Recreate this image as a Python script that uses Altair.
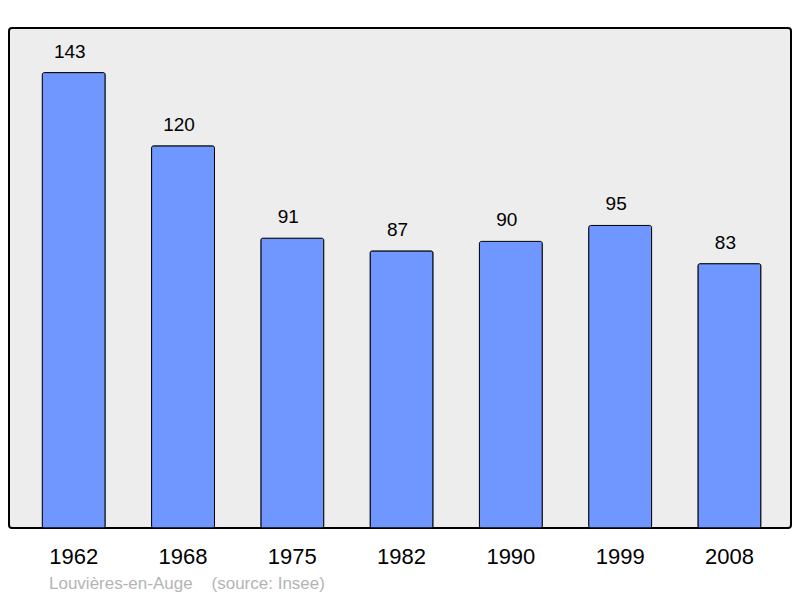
import altair as alt
import pandas as pd

years = ["1962", "1968", "1975", "1982", "1990", "1999", "2008"]
population = [143, 120, 91, 87, 90, 95, 83]
caption_text = ["Louvi\u00e8res-en-Auge\u00a0\u00a0\u00a0\u00a0(source: Insee)"]

df = pd.DataFrame({"year": years, "pop": population})
cap = pd.DataFrame({"t": caption_text})

FONT = "Liberation Sans"

x = alt.X("year:N", sort=years,
          scale=alt.Scale(paddingInner=0.424, paddingOuter=0.29, align=0.525),
          axis=alt.Axis(title=None, ticks=False, domain=False, labelAngle=0,
                        labelFontSize=22, labelColor="black", labelFont=FONT,
                        labelPadding=18, grid=False))
y = alt.Y("pop:Q", scale=alt.Scale(domain=[0, 157], nice=False, zero=True),
          axis=None)

bars = alt.Chart(df).mark_bar(
    color="#7097ff", stroke="black", strokeWidth=1, cornerRadius=2
).encode(x=x, y=y)

labels = alt.Chart(df).mark_text(
    fontSize=19, font=FONT, color="black", baseline="alphabetic", dy=-15, dx=-4
).encode(x=x, y=y, text="pop:Q")

caption = alt.Chart(cap).mark_text(
    fontSize=17, font=FONT, color="#b4b4b4", align="left", baseline="alphabetic"
).encode(x=alt.value(40), y=alt.value(561), text="t:N")

chart = alt.layer(bars, labels, caption).properties(
    width=782, height=500,
    background="white",
    autosize=alt.AutoSizeParams(type="none"),
    padding={"left": 1, "top": 20, "right": 1, "bottom": 68},
).configure_view(
    fill="#ededed", stroke="black", strokeWidth=2, cornerRadius=3
)

chart.save("out.html", embed_options={"renderer": "svg", "actions": False})
